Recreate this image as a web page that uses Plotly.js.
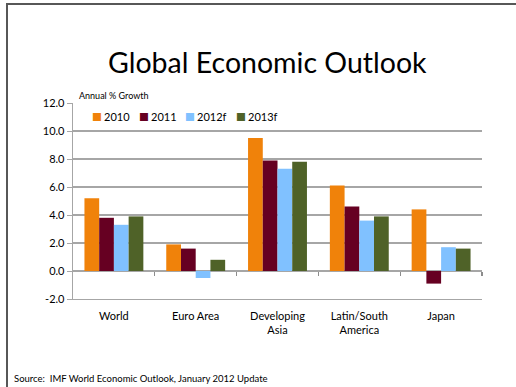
<!DOCTYPE html>
<html>
<head>
<meta charset="utf-8">
<script src="https://cdn.plot.ly/plotly-3.0.1.min.js"></script>
<style>
  html, body { margin: 0; padding: 0; background: #ffffff; }
  #wrap { position: relative; width: 516px; height: 387px; overflow: hidden; }
  #frame { position: absolute; left: 6px; top: 3px; width: 520px; height: 400px;
           border-left: 2px solid #575757; border-top: 2px solid #575757; }
  #chart { position: absolute; left: 0; top: 0; width: 516px; height: 387px; }
</style>
</head>
<body>
<div id="wrap">
  <div id="frame"></div>
  <div id="chart"></div>
</div>
<script>
const categories = ["World", "Euro Area", "Developing<br>Asia", "Latin/South<br>America", "Japan"];
const seriesNames = ["2010", "2011", "2012f", "2013f"];
const v2010  = [5.2, 1.9, 9.5, 6.1, 4.4];
const v2011  = [3.8, 1.6, 7.9, 4.6, -0.9];
const v2012f = [3.3, -0.5, 7.3, 3.6, 1.7];
const v2013f = [3.9, 0.8, 7.8, 3.9, 1.6];
const yTicks = [-2, 0, 2, 4, 6, 8, 10, 12];
const yTickText = ["-2.0", "0.0", "2.0", "4.0", "6.0", "8.0", "10.0", "12.0"];
const boundaryTicks = [0.5, 1.5, 2.5, 3.5, 4.5];

const colors = ["#F0820A", "#660022", "#80C1FF", "#4F6228"];
const seriesValues = [v2010, v2011, v2012f, v2013f];
const FONT = "Lato, 'Open Sans', sans-serif";
const GRID = "#a6a6a6";

const traces = seriesValues.map((vals, i) => ({
  type: "bar",
  name: seriesNames[i],
  x: categories,
  y: vals,
  marker: { color: colors[i], line: { width: 0 } },
  hoverinfo: "skip",
  showlegend: false
}));
// helper subplot whose bottom edge is the zero line: draws category-boundary ticks
traces.push({ type: "scatter", mode: "markers", x: [null], y: [null],
              xaxis: "x2", yaxis: "y2", showlegend: false, hoverinfo: "skip" });

// legend drawn as text: colored square + series name, laid out left to right
const legendStartPx = [92, 139, 185, 236];
const plotL = 73, plotW = 409;
const legendY = 0.932;
const legendAnn = [];
seriesNames.forEach((name, i) => {
  const px = legendStartPx[i];
  legendAnn.push({ text: "■", xref: "paper", yref: "paper",
    x: (px - 2 - plotL) / plotW, y: legendY, xanchor: "left", yanchor: "middle",
    showarrow: false, font: { family: "DejaVu Sans", size: 10.5, color: colors[i] } });
  legendAnn.push({ text: name, xref: "paper", yref: "paper",
    x: (px + 10 - plotL) / plotW, y: legendY, xanchor: "left", yanchor: "middle",
    showarrow: false, font: { family: FONT, size: 11, color: "#000000" } });
});

const layout = {
  width: 516, height: 387,
  margin: { l: 73, r: 34, t: 103, b: 88 },
  paper_bgcolor: "rgba(0,0,0,0)",
  plot_bgcolor: "rgba(0,0,0,0)",
  font: { family: FONT, color: "#000000", size: 11 },
  title: {
    text: "Global Economic Outlook",
    font: { family: FONT, size: 28.5, color: "#000000" },
    x: 0.518, xanchor: "center", xref: "container",
    y: 0.838, yanchor: "middle", yref: "container"
  },
  barmode: "group",
  bargap: 0.28,
  bargroupgap: 0,
  showlegend: false,
  xaxis: {
    type: "category", domain: [0, 1], anchor: "y",
    showline: true, linecolor: GRID, linewidth: 1.3,
    showgrid: false, zeroline: false,
    ticks: "",
    tickfont: { family: FONT, size: 11 },
    ticklabelstandoff: 6
  },
  yaxis: {
    domain: [0, 1], anchor: "x",
    range: [-2, 12],
    tickmode: "array", tickvals: yTicks, ticktext: yTickText,
    showgrid: true, gridcolor: GRID, gridwidth: 1.3,
    zeroline: true, zerolinecolor: GRID, zerolinewidth: 1.3,
    showline: true, linecolor: GRID, linewidth: 1.3,
    ticks: "outside", ticklen: 5, tickcolor: GRID, tickwidth: 1,
    tickfont: { family: FONT, size: 11 }
  },
  xaxis2: {
    domain: [0, 1], anchor: "y2",
    range: [-0.5, 4.5], showgrid: false, zeroline: false, showline: false,
    tickmode: "array", tickvals: boundaryTicks, ticks: "outside",
    ticklen: 4, tickwidth: 1.2, tickcolor: "#8c8c8c", showticklabels: false
  },
  yaxis2: {
    domain: [2 / 14, 1], anchor: "x2", range: [0, 1], visible: false
  },
  annotations: [
    { text: "Annual % Growth", xref: "paper", yref: "paper",
      x: 0.011, y: 1.036, xanchor: "left", yanchor: "middle",
      showarrow: false, font: { family: FONT, size: 9 } },
    { text: "Source:  IMF World Economic Outlook, January 2012 Update",
      xref: "paper", yref: "paper", x: -0.149, y: -0.408,
      xanchor: "left", yanchor: "middle", showarrow: false,
      font: { family: FONT, size: 9.5 } }
  ].concat(legendAnn)
};

Plotly.newPlot("chart", traces, layout, { displayModeBar: false, staticPlot: true });
</script>
</body>
</html>
